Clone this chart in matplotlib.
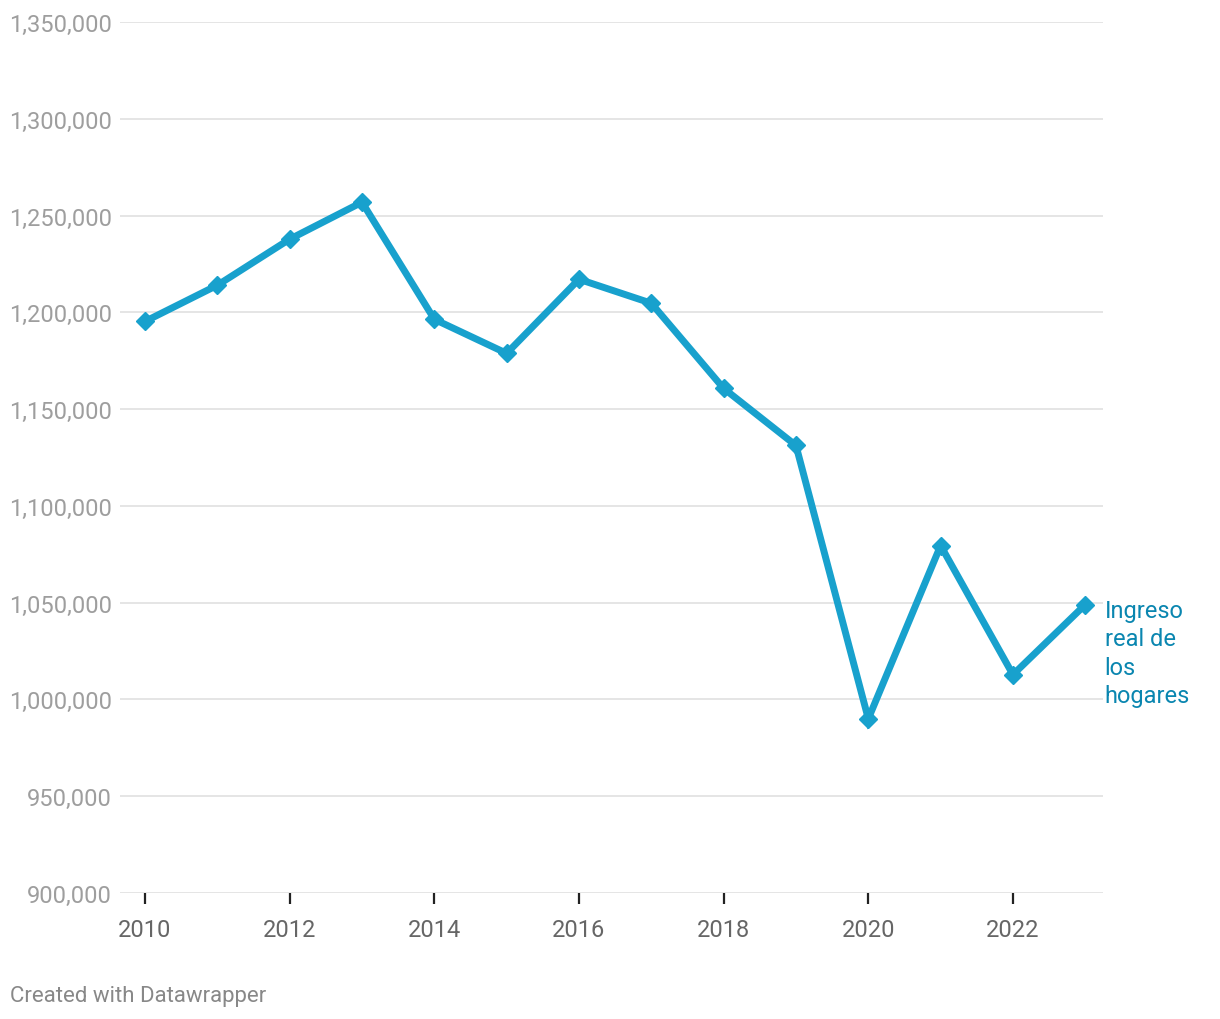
import matplotlib.pyplot as plt
from matplotlib.ticker import FuncFormatter

years = list(range(2010, 2024))
ingreso = [1195300, 1214000, 1237800, 1256900, 1196400, 1178800, 1217100,
           1204700, 1160700, 1131200, 990000, 1079500, 1012800, 1049000]
y_ticks = list(range(900000, 1350001, 50000))
x_ticks = list(range(2010, 2024, 2))

plt.rcParams['font.family'] = ['Roboto', 'DejaVu Sans']

fig = plt.figure(figsize=(12.2, 10.2), dpi=100)
ax = fig.add_axes([120 / 1220, 1 - 894 / 1020, 983 / 1220, 871 / 1020])

line_color = '#18a1cd'
ax.plot(years, ingreso, color=line_color, lw=5, marker='D', ms=9,
        solid_joinstyle='miter', zorder=3, clip_on=False)

ax.set_xlim(2009.654, 2023.245)
ax.set_ylim(900000, 1350000)
ax.set_yticks(y_ticks)
ax.yaxis.set_major_formatter(FuncFormatter(lambda v, p: f'{int(v):,}'))
ax.set_xticks(x_ticks)
ax.grid(axis='y', color='#e3e3e3', lw=1.3)
ax.set_axisbelow(True)
for s in ax.spines.values():
    s.set_visible(False)
ax.tick_params(axis='y', length=0, pad=6, labelsize=17, labelcolor='#9e9e9e')
ax.tick_params(axis='x', length=8, width=1.6, color='#222222', pad=10,
               labelsize=17, labelcolor='#666666')

ax.annotate('Ingreso\nreal de\nlos\nhogares', xy=(years[-1], ingreso[-1]),
            xytext=(14, 4), textcoords='offset points', ha='left', va='top',
            fontsize=17, color='#0a86b0', linespacing=1.3, annotation_clip=False)

fig.text(10 / 1220, 1 - 997 / 1020, 'Created with Datawrapper', fontsize=16,
         color='#888888', va='center', ha='left')

fig.savefig('out.png', dpi=100)
